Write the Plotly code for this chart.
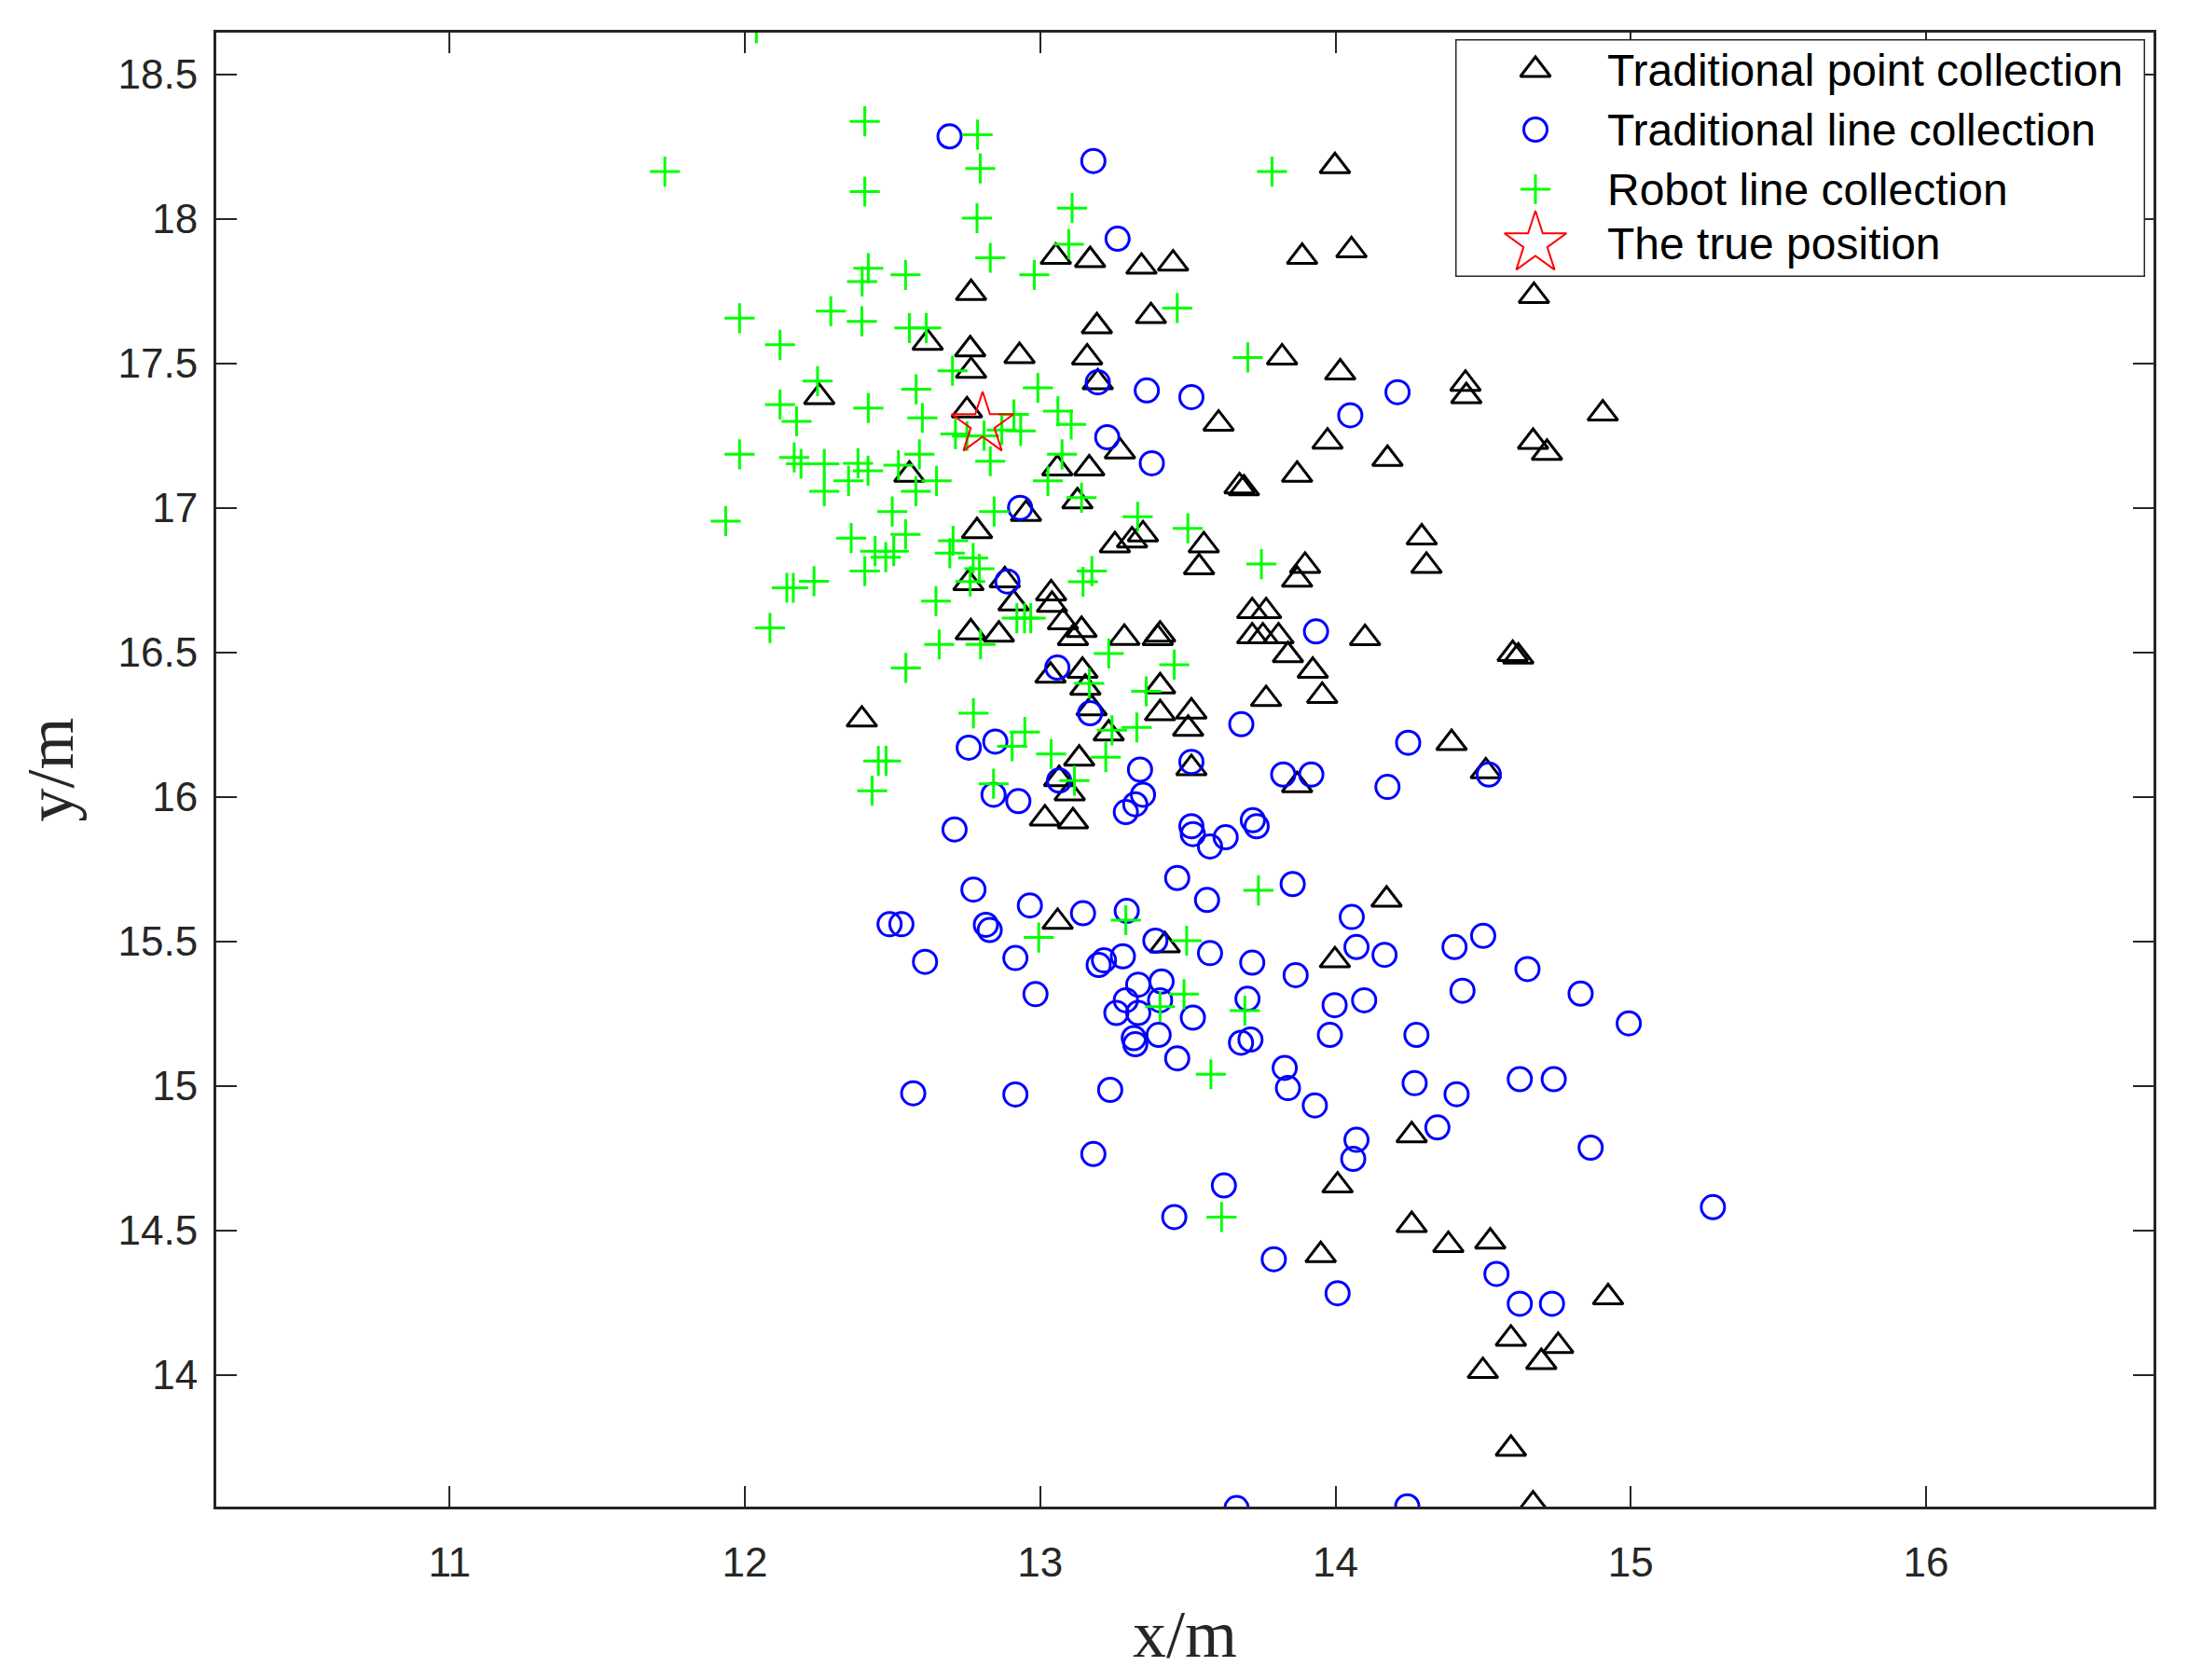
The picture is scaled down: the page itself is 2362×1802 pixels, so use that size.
import plotly.graph_objects as go

# Traditional point collection (black triangles)
tri_x = [13.998, 13.887, 14.054, 13.053, 13.169, 13.343, 13.45, 12.766, 14.672, 13.192,
         13.375, 12.619, 12.763, 12.93, 13.159, 13.819, 12.766, 14.016, 14.44, 14.443,
         12.252, 14.905, 12.752, 13.604, 14.669, 14.716, 13.973, 14.176, 13.058, 13.166,
         12.557, 13.87, 13.675, 13.69, 13.126, 12.952, 12.786, 13.253, 13.311, 13.348,
         13.554, 13.538, 14.292, 14.308, 13.897, 13.87, 12.757, 12.88, 13.037, 12.91,
         13.04, 13.077, 13.14, 13.111, 12.765, 12.86, 13.285, 13.406, 13.398, 13.718,
         13.765, 13.718, 13.754, 13.807, 13.839, 13.923, 13.955, 14.1, 14.619, 14.60,
         13.765, 13.035, 13.143, 13.153, 13.174, 13.406, 13.406, 13.512, 13.501, 13.232,
         12.396, 14.393, 14.509, 13.132, 13.512, 13.064, 13.1, 13.87, 13.016, 13.111,
         14.173, 13.059, 13.422, 13.998, 14.258, 14.007, 14.258, 14.382, 14.524, 13.95,
         14.923, 14.594, 14.754, 14.697, 14.499, 14.594, 14.669, 13.195, 13.27]
tri_y = [18.183, 17.869, 17.892, 17.869, 17.858, 17.835, 17.846, 17.744, 17.734, 17.629,
         17.664, 17.572, 17.549, 17.526, 17.521, 17.521, 17.475, 17.469, 17.43, 17.387,
         17.384, 17.327, 17.338, 17.292, 17.229, 17.191, 17.23, 17.17, 17.137, 17.137,
         17.115, 17.115, 17.075, 17.068, 17.023, 16.98, 16.92, 16.871, 16.888, 16.909,
         16.871, 16.795, 16.898, 16.8, 16.8, 16.752, 16.74, 16.75, 16.705, 16.67,
         16.665, 16.605, 16.578, 16.55, 16.57, 16.562, 16.551, 16.562, 16.55, 16.643,
         16.643, 16.556, 16.556, 16.556, 16.491, 16.437, 16.35, 16.55, 16.486, 16.495,
         16.339, 16.42, 16.437, 16.378, 16.307, 16.383, 16.29, 16.296, 16.236, 16.22,
         16.268, 16.187, 16.089, 16.133, 16.1, 16.062, 16.013, 16.041, 15.926, 15.916,
         15.645, 15.568, 15.487, 15.435, 14.83, 14.656, 14.519, 14.45, 14.462, 14.415,
         14.269, 14.126, 14.101, 14.045, 14.014, 13.745, 13.552, 17.435, 17.196]

# Traditional line collection (blue circles)
circ_x = [12.693, 13.18, 13.262, 13.195, 13.361, 13.512, 14.21, 14.05, 13.227, 13.378,
          12.932, 12.889, 13.934, 13.058, 13.169, 13.681, 14.246, 12.758, 12.848, 13.338,
          13.512, 13.823, 13.918, 14.176, 14.519, 13.064, 12.842, 12.926, 12.71, 13.29,
          13.322, 13.348, 13.512, 13.517, 13.575, 13.628, 13.733, 13.72, 12.774, 13.464,
          13.565, 13.855, 14.055, 12.816, 12.829, 12.965, 13.145, 13.293, 12.916, 13.39,
          13.575, 13.718, 13.865, 14.071, 14.166, 13.198, 13.216, 13.28, 14.403, 14.50,
          12.49, 12.53, 12.61, 12.984, 13.332, 13.411, 13.29, 13.258, 13.332, 13.406,
          13.317, 13.322, 13.401, 13.464, 13.517, 13.702, 13.68, 13.712, 13.997, 14.097,
          13.981, 14.274, 14.43, 13.828, 13.839, 13.93, 14.268, 14.41, 12.916, 13.237,
          12.57, 14.071, 14.06, 14.345, 13.18, 13.622, 13.454, 13.791, 14.007, 14.65,
          14.83, 14.993, 14.624, 14.739, 14.864, 15.278, 14.545, 14.624, 14.733, 14.243,
          13.665]
circ_y = [18.286, 18.201, 17.932, 17.435, 17.407, 17.384, 17.401, 17.321, 17.245, 17.155,
          17.001, 16.746, 16.573, 16.448, 16.29, 16.252, 16.188, 16.171, 16.192, 16.095,
          16.122, 16.078, 16.078, 16.035, 16.078, 16.057, 16.008, 15.986, 15.888, 15.948,
          15.975, 16.008, 15.899, 15.872, 15.829, 15.861, 15.899, 15.92, 15.68, 15.72,
          15.644, 15.699, 15.585, 15.558, 15.54, 15.625, 15.598, 15.606, 15.443, 15.503,
          15.46, 15.427, 15.384, 15.481, 15.454, 15.419, 15.435, 15.449, 15.481, 15.52,
          15.56, 15.56, 15.43, 15.318, 15.351, 15.362, 15.297, 15.253, 15.253, 15.297,
          15.166, 15.145, 15.177, 15.096, 15.237, 15.302, 15.15, 15.161, 15.28, 15.297,
          15.177, 15.177, 15.33, 15.063, 14.993, 14.933, 15.01, 14.972, 14.971, 14.987,
          14.975, 14.814, 14.748, 14.857, 14.765, 14.656, 14.547, 14.401, 14.283, 15.405,
          15.32, 15.217, 15.024, 15.024, 14.787, 14.581, 14.35, 14.247, 14.247, 13.546,
          13.54]

# Robot line collection (green plus signs)
plus_x = [12.039, 12.406, 12.788, 11.729, 12.797, 13.785, 12.406, 13.108, 12.786, 13.097,
          12.831, 12.418, 12.397, 12.544, 12.98, 13.464, 11.982, 12.291, 12.396, 12.557,
          12.614, 12.119, 13.703, 12.703, 12.246, 12.58, 12.992, 12.119, 12.175, 12.418,
          12.601, 12.911, 13.06, 13.105, 12.934, 12.713, 12.752, 12.81, 12.87, 11.982,
          12.167, 12.19, 12.269, 12.269, 12.383, 12.351, 12.417, 12.52, 12.591, 12.579,
          12.649, 12.831, 13.074, 13.026, 13.14, 11.935, 12.499, 12.844, 12.36, 12.544,
          12.441, 12.477, 12.504, 12.406, 12.705, 12.694, 12.773, 12.794, 12.763, 12.142,
          12.164, 12.234, 12.085, 12.647, 12.658, 12.798, 12.545, 12.921, 12.947, 12.968,
          13.145, 13.175, 13.166, 12.774, 12.452, 12.478, 12.431, 12.842, 12.905, 13.5,
          13.33, 13.749, 13.232, 13.454, 13.359, 12.948, 13.243, 13.327, 13.037, 13.222,
          13.116, 13.739, 13.29, 12.995, 13.496, 13.406, 13.487, 13.693, 13.578, 13.614]
plus_y = [18.66, 18.338, 18.292, 18.164, 18.175, 18.164, 18.095, 18.038, 18.003, 17.913,
          17.866, 17.83, 17.784, 17.807, 17.807, 17.692, 17.657, 17.681, 17.646, 17.623,
          17.623, 17.565, 17.521, 17.475, 17.439, 17.411, 17.416, 17.358, 17.30, 17.346,
          17.312, 17.324, 17.335, 17.289, 17.267, 17.256, 17.249, 17.25, 17.27, 17.186,
          17.175, 17.153, 17.153, 17.058, 17.155, 17.094, 17.129, 17.148, 17.186, 17.058,
          17.094, 17.162, 17.186, 17.094, 17.036, 16.955, 16.988, 16.988, 16.896, 16.909,
          16.851, 16.83, 16.851, 16.782, 16.887, 16.844, 16.827, 16.79, 16.746, 16.724,
          16.724, 16.747, 16.585, 16.678, 16.528, 16.528, 16.447, 16.619, 16.619, 16.619,
          16.745, 16.782, 16.393, 16.29, 16.125, 16.125, 16.022, 16.046, 16.176, 16.93,
          16.97, 16.806, 16.497, 16.458, 16.366, 16.225, 16.231, 16.241, 16.149, 16.138,
          16.057, 15.677, 15.574, 15.514, 15.503, 15.275, 15.318, 15.261, 15.041, 14.547]

# The true position
true_x = [12.805]
true_y = [17.29]

x_ticks = [11, 12, 13, 14, 15, 16]
y_ticks = [14, 14.5, 15, 15.5, 16, 16.5, 17, 17.5, 18, 18.5]
y_tick_text = ["14", "14.5", "15", "15.5", "16", "16.5", "17", "17.5", "18", "18.5"]

legend_names = ["Traditional point collection", "Traditional line collection",
                "Robot line collection", "The true position"]

axis_col = "#262626"

# series styles, in legend order
styles = [
    dict(symbol="triangle-up-open", size=28, color="black", width=3),
    dict(symbol="circle-open", size=25, color="#0000ff", width=3),
    dict(symbol="cross-thin-open", size=23, color="#00ff00", width=3),
    dict(symbol="star-open", size=50, color="#ff0000", width=2),
]
series = [(tri_x, tri_y), (circ_x, circ_y), (plus_x, plus_y), (true_x, true_y)]

fig = go.Figure()

for (sx, sy), st, name in zip(series, styles, legend_names):
    fig.add_trace(go.Scatter(
        x=sx, y=sy, mode="markers", name=name, showlegend=False,
        marker=dict(symbol=st["symbol"], size=st["size"], color=st["color"],
                    line=dict(width=st["width"], color=st["color"]))))

# MATLAB-like legend box drawn on an overlay axis measured in pixels,
# so the keys keep the same size as the markers in the plot
plot_l, plot_r, plot_t, plot_b = 224, 2302, 27, 1608
box_l, box_r, box_t, box_b = 1553, 2293, 34, 289
key_x, text_x = 1639, 1716
row_y = [67, 131, 195, 253]

for st, ry in zip(styles, row_y):
    fig.add_trace(go.Scatter(
        x=[key_x], y=[ry], xaxis="x2", yaxis="y2", mode="markers",
        showlegend=False, hoverinfo="skip", cliponaxis=False,
        marker=dict(symbol=st["symbol"], size=st["size"], color=st["color"],
                    line=dict(width=st["width"], color=st["color"]))))

fig.add_trace(go.Scatter(
    x=[text_x] * len(legend_names), y=[ry + 5 for ry in row_y],
    xaxis="x2", yaxis="y2", mode="text", text=legend_names,
    textposition="middle right", showlegend=False, hoverinfo="skip",
    cliponaxis=False,
    textfont=dict(family="Liberation Sans", size=48, color="black")))

fig.add_shape(type="rect", xref="x2", yref="y2",
              x0=box_l, x1=box_r, y0=box_t, y1=box_b,
              line=dict(color=axis_col, width=3), fillcolor="white", layer="below")

pw = plot_r - plot_l
ph = plot_b - plot_t

tick_font = dict(family="Liberation Sans", size=44, color=axis_col)
title_font = dict(family="Liberation Serif", size=72, color=axis_col)

fig.update_layout(
    width=2362, height=1802,
    margin=dict(l=plot_l, r=2362 - plot_r, t=plot_t, b=1802 - plot_b),
    paper_bgcolor="white", plot_bgcolor="white",
    showlegend=False,
    xaxis=dict(
        range=[10.21, 16.77], tickvals=x_ticks,
        ticks="inside", ticklen=22, tickwidth=2, tickcolor=axis_col,
        showline=True, linewidth=3, linecolor=axis_col, mirror="ticks",
        showgrid=False, zeroline=False, ticklabelstandoff=19,
        tickfont=tick_font,
        title=dict(text="x/m", standoff=28, font=title_font),
    ),
    yaxis=dict(
        range=[13.545, 18.645], tickvals=y_ticks, ticktext=y_tick_text,
        ticks="inside", ticklen=22, tickwidth=2, tickcolor=axis_col,
        showline=True, linewidth=3, linecolor=axis_col, mirror="ticks",
        showgrid=False, zeroline=False, ticklabelstandoff=8,
        tickfont=tick_font,
        title=dict(text="y/m", standoff=25, font=title_font),
    ),
    xaxis2=dict(domain=[(box_l - plot_l) / pw, (box_r - plot_l) / pw],
                range=[box_l, box_r], visible=False, anchor="y2"),
    yaxis2=dict(domain=[1 - (box_b - plot_t) / ph, 1 - (box_t - plot_t) / ph],
                range=[box_b, box_t], visible=False, anchor="x2"),
)

fig.write_html("out.html")
